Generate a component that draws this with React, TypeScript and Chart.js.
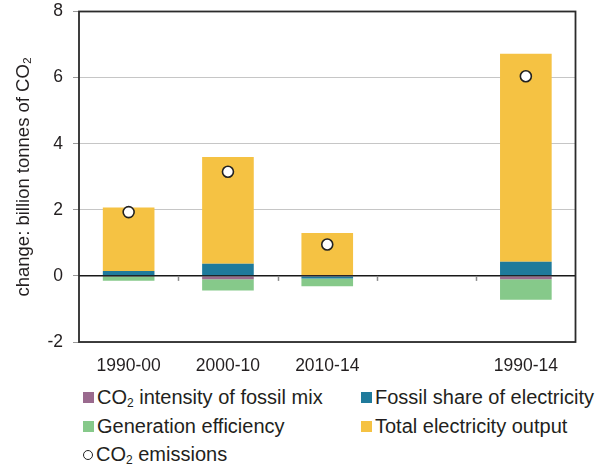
import React, { useEffect, useRef } from "react";
import { Chart, registerables } from "chart.js";

Chart.register(...registerables);

const categories = ["1990-00", "2000-10", "2010-14", "", "1990-14"];
const co2Intensity = [-0.01, -0.1, 0.03, null, -0.1];
const fossilShare = [0.15, 0.37, -0.08, null, 0.43];
const genEfficiency = [-0.14, -0.34, -0.23, null, -0.62];
const totalOutput = [1.92, 3.23, 1.27, null, 6.29];
const emissions = [1.93, 3.15, 0.95, null, 6.04];
const yTicks = [-2, 0, 2, 4, 6, 8];

const C_PURPLE = "#9a6a8e";
const C_BLUE = "#1f7a9b";
const C_GREEN = "#86c98a";
const C_YELLOW = "#f5c243";
const TEXT = "#231f20";
const FONT = "'Liberation Sans', Arial, sans-serif";

const framePlugin = {
  id: "framePlugin",
  afterDatasetsDraw(chart: any) {
    const { ctx, chartArea } = chart;
    const y = chart.scales.y;
    const y0 = y.getPixelForValue(0);
    ctx.save();
    ctx.strokeStyle = "#1a1a1a";
    ctx.lineWidth = 1.2;
    ctx.beginPath();
    ctx.moveTo(chartArea.left, y0);
    ctx.lineTo(chartArea.right, y0);
    ctx.stroke();
    const n = categories.length;
    const w = (chartArea.right - chartArea.left) / n;
    ctx.strokeStyle = "#8a8a8a";
    ctx.lineWidth = 1.5;
    for (let i = 1; i < n; i++) {
      const px = Math.round(chartArea.left + i * w) + 0.5;
      ctx.beginPath();
      ctx.moveTo(px, y0);
      ctx.lineTo(px, y0 + 5);
      ctx.stroke();
    }
    ctx.strokeStyle = "#2b2b2b";
    ctx.lineWidth = 1.8;
    ctx.strokeRect(
      chartArea.left,
      chartArea.top,
      chartArea.right - chartArea.left,
      chartArea.bottom - chartArea.top
    );
    ctx.restore();
  },
};

function LegendItem(props: { left: number; top: number; color?: string; circle?: boolean; children: any }) {
  const { left, top, color, circle, children } = props;
  return (
    <div
      style={{
        position: "absolute",
        left,
        top,
        height: 24,
        display: "flex",
        alignItems: "center",
        fontFamily: FONT,
        fontSize: 20,
        color: TEXT,
        whiteSpace: "nowrap",
      }}
    >
      {circle ? (
        <span
          style={{
            display: "inline-block",
            width: 8,
            height: 8,
            borderRadius: "50%",
            border: "1.5px solid #222",
            background: "#fff",
            marginRight: 3,
          }}
        />
      ) : (
        <span
          style={{
            display: "inline-block",
            width: 11,
            height: 11,
            background: color,
            marginRight: 3,
          }}
        />
      )}
      <span>{children}</span>
    </div>
  );
}

const Sub = ({ children }: { children: any }) => (
  <sub style={{ fontSize: "0.6em", verticalAlign: "-0.25em" }}>{children}</sub>
);

export default function App() {
  const canvasRef = useRef<HTMLCanvasElement | null>(null);

  useEffect(() => {
    if (!canvasRef.current) return;
    const chart = new Chart(canvasRef.current, {
      type: "bar",
      data: {
        labels: categories,
        datasets: [
          {
            type: "line",
            label: "CO₂ emissions",
            data: emissions,
            showLine: false,
            pointRadius: 5.5,
            pointBackgroundColor: "#ffffff",
            pointBorderColor: "#222222",
            pointBorderWidth: 1.6,
            order: 0,
          } as any,
          {
            label: "CO₂ intensity of fossil mix",
            data: co2Intensity,
            backgroundColor: C_PURPLE,
            order: 1,
          },
          {
            label: "Fossil share of electricity",
            data: fossilShare,
            backgroundColor: C_BLUE,
            order: 1,
          },
          {
            label: "Generation efficiency",
            data: genEfficiency,
            backgroundColor: C_GREEN,
            order: 1,
          },
          {
            label: "Total electricity output",
            data: totalOutput,
            backgroundColor: C_YELLOW,
            order: 1,
          },
        ],
      },
      options: {
        animation: false,
        responsive: false,
        devicePixelRatio: 1,
        datasets: {
          bar: { barPercentage: 0.52, categoryPercentage: 1.0 },
        },
        layout: { padding: { left: 0, right: 30.5, top: 11.5, bottom: 0 } },
        plugins: {
          legend: { display: false },
          tooltip: { enabled: false },
          title: { display: false },
        },
        scales: {
          x: {
            stacked: true,
            grid: { display: false },
            border: { display: false },
            ticks: {
              color: TEXT,
              font: { family: FONT, size: 17.5 },
              padding: 6,
              maxRotation: 0,
              autoSkip: false,
            },
            afterFit: (s: any) => {
              s.height = 38;
              s.paddingLeft = 0;
              s.paddingRight = 0;
            },
          },
          y: {
            stacked: true,
            min: -2,
            max: 8,
            afterBuildTicks: (s: any) => {
              s.ticks = yTicks.map((v) => ({ value: v }));
            },
            ticks: {
              color: TEXT,
              font: { family: FONT, size: 17.5 },
              padding: 10,
            },
            grid: {
              color: (c: any) => (c.tick && c.tick.value === 0 ? "#1a1a1a" : "#c6c6c6"),
              tickColor: "#9a9a9a",
              tickLength: 6,
              lineWidth: 1,
            },
            border: { display: false },
            title: {
              display: true,
              text: "change: billion tonnes of CO₂",
              color: TEXT,
              font: { family: FONT, size: 18.5 },
              padding: { top: 13, bottom: 0 },
            },
            afterFit: (s: any) => {
              s.width = 79;
              s.paddingTop = 0;
              s.paddingBottom = 0;
            },
          },
        },
      },
      plugins: [framePlugin],
    } as any);
    return () => chart.destroy();
  }, []);

  return (
    <div style={{ position: "absolute", left: 0, top: 0, width: 606, height: 467, background: "#fff" }}>
      <canvas ref={canvasRef} width={606} height={380} style={{ position: "absolute", left: 0, top: 0 }} />
      <LegendItem left={83} top={385.5} color={C_PURPLE}>
        CO<Sub>2</Sub> intensity of fossil mix
      </LegendItem>
      <LegendItem left={361} top={385.5} color={C_BLUE}>
        Fossil share of electricity
      </LegendItem>
      <LegendItem left={83} top={414} color={C_GREEN}>
        Generation efficiency
      </LegendItem>
      <LegendItem left={361} top={414} color={C_YELLOW}>
        Total electricity output
      </LegendItem>
      <LegendItem left={83} top={443} circle>
        CO<Sub>2</Sub> emissions
      </LegendItem>
    </div>
  );
}
